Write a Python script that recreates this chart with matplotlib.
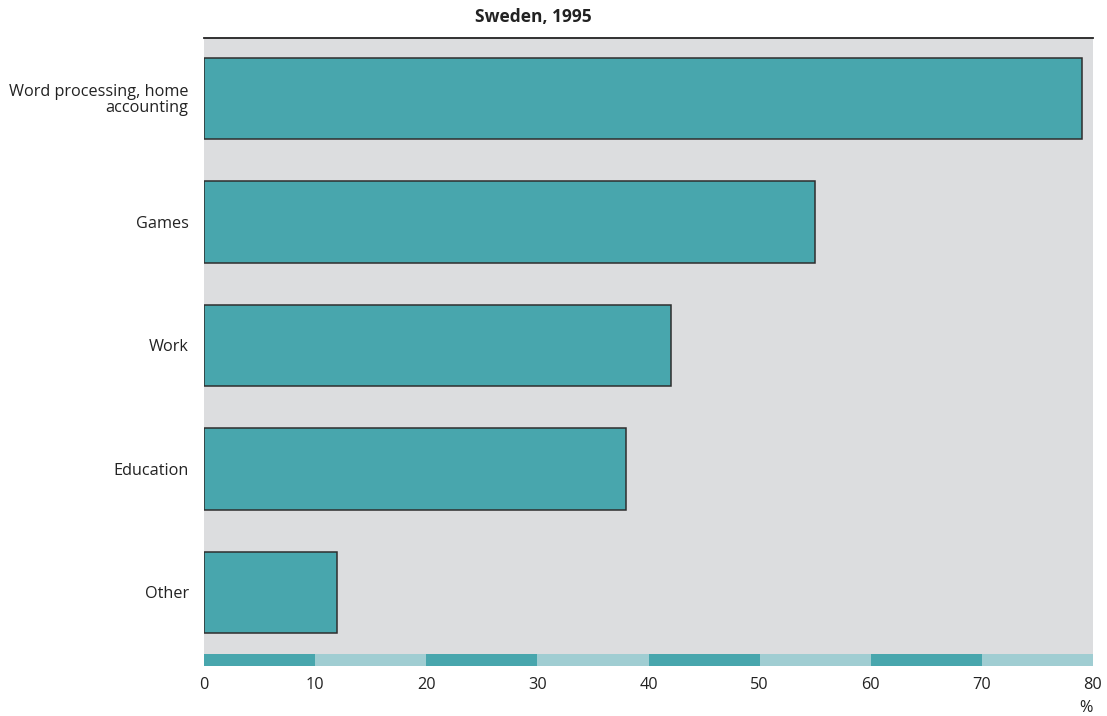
import numpy as np
import matplotlib
matplotlib.use("Agg")
import matplotlib.pyplot as plt

# ==========================
# Data
# ==========================
categories = ['Word processing, home\naccounting', 'Games', 'Work', 'Education', 'Other']
values = [79, 55, 42, 38, 12]
tick_values = [0, 10, 20, 30, 40, 50, 60, 70, 80]
title = 'Sweden, 1995'

TEAL = '#48a6ad'
LIGHT_TEAL = '#a0cdd2'
GRAY = '#dcdddf'

plt.rcParams['font.family'] = ['Open Sans', 'DejaVu Sans']

fig = plt.figure(figsize=(11.07, 7.16), dpi=100)

# main panel
ax = fig.add_axes([204 / 1107, 62 / 716, 889 / 1107, 616 / 716])
ax.set_facecolor(GRAY)
y = np.arange(len(categories))
ax.barh(y, values, height=0.66, color=TEAL, edgecolor='#2e2e2e', linewidth=1.1, zorder=2)
ax.set_xlim(0, 80)
ax.set_ylim(4.5, -0.49)
ax.set_yticks(y)
ax.set_yticklabels(categories, fontsize=11.7, color='#222222', linespacing=1.0)
ax.tick_params(axis='y', length=0, pad=11)
ax.set_xticks([])
for side in ['left', 'right', 'bottom']:
    ax.spines[side].set_visible(False)
ax.spines['top'].set_linewidth(1.3)
ax.spines['top'].set_color('#222222')

# striped scale band
bx = fig.add_axes([204 / 1107, 50 / 716, 889 / 1107, 12 / 716])
starts = tick_values[:-1]
band_colors = [TEAL if i % 2 == 0 else LIGHT_TEAL for i in range(len(starts))]
bx.barh(0, [10] * len(starts), left=starts, height=1, color=band_colors, linewidth=0)
bx.set_xlim(0, 80)
bx.set_ylim(-0.5, 0.5)
bx.set_yticks([])
bx.set_xticks(tick_values)
bx.set_xticklabels([str(v) for v in tick_values], fontsize=11.7, color='#222222')
bx.tick_params(axis='x', length=0, pad=8)
for side in bx.spines:
    bx.spines[side].set_visible(False)

fig.text(1086 / 1107, 1 - 708 / 716, '%', fontsize=11.7, color='#222222', ha='center', va='center')
fig.text(533 / 1107, 1 - 17 / 716, title, fontsize=12.5, fontweight='bold', color='#222222',
         ha='center', va='center')

fig.savefig('out.png', dpi=100)
